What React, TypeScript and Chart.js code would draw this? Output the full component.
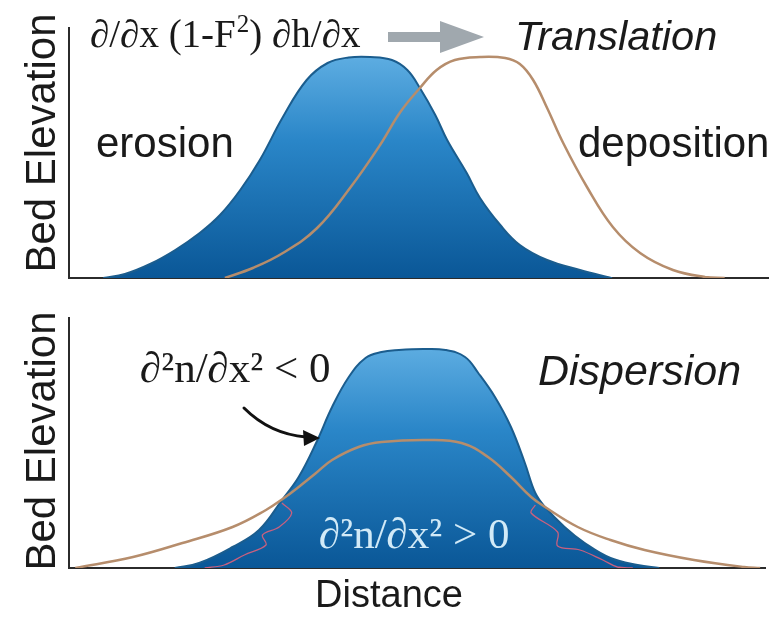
import React, { useEffect, useRef } from "react";
import { Chart, registerables } from "chart.js";

Chart.register(...registerables);

// Distance runs 0–10, bed elevation 0–1 (arbitrary units).

// Translation panel: initial bed form and the bed form after it has moved downstream
const translationBedX = [0.49, 0.8, 1.16, 1.52, 1.87, 2.16, 2.45, 2.73, 3.06, 3.4, 3.7, 4.0, 4.31, 4.62, 4.84, 5.02, 5.24, 5.41, 5.69, 5.88, 6.17, 6.45, 6.84, 7.31, 7.7, 7.77];
const translationBedY = [0, 0.016, 0.056, 0.112, 0.18, 0.252, 0.352, 0.472, 0.644, 0.792, 0.86, 0.882, 0.884, 0.872, 0.832, 0.76, 0.652, 0.552, 0.42, 0.32, 0.212, 0.132, 0.072, 0.032, 0.004, 0];
const translatedX = [2.23, 2.63, 3.06, 3.55, 4.02, 4.45, 4.74, 5.02, 5.26, 5.52, 5.88, 6.24, 6.45, 6.64, 6.84, 7.07, 7.41, 7.78, 8.17, 8.64, 9.1, 9.38];
const translatedY = [0, 0.04, 0.1, 0.2, 0.36, 0.532, 0.664, 0.76, 0.832, 0.872, 0.884, 0.88, 0.856, 0.792, 0.68, 0.54, 0.364, 0.204, 0.1, 0.032, 0.004, 0];

// Dispersion panel: initial bed form and the flattened, spread-out bed form
const dispersionBedX = [1.52, 1.87, 2.35, 2.73, 3.06, 3.3, 3.55, 3.78, 4.02, 4.26, 4.49, 4.74, 5.09, 5.41, 5.69, 5.88, 6.12, 6.35, 6.55, 6.7, 6.84, 7.12, 7.41, 7.78, 8.17, 8.48];
const dispersionBedY = [0, 0.02, 0.084, 0.152, 0.272, 0.364, 0.5, 0.644, 0.764, 0.84, 0.864, 0.872, 0.876, 0.872, 0.844, 0.78, 0.684, 0.564, 0.42, 0.3, 0.244, 0.164, 0.1, 0.04, 0.012, 0];
const dispersedX = [0.09, 0.92, 1.63, 2.35, 2.83, 3.09, 3.3, 3.55, 3.78, 4.16, 4.49, 5.16, 5.64, 6.02, 6.35, 6.64, 6.84, 7.31, 7.78, 8.27, 8.98, 9.7, 9.93];
const dispersedY = [0, 0.044, 0.1, 0.164, 0.232, 0.28, 0.324, 0.38, 0.432, 0.484, 0.504, 0.512, 0.5, 0.444, 0.364, 0.284, 0.244, 0.164, 0.112, 0.072, 0.032, 0.004, 0];

// Inflection traces below the crossing points (convex flanks)
const leftTraceX = [3.06, 3.2, 3.02, 2.78, 2.83, 2.52, 2.23, 1.95];
const leftTraceY = [0.26, 0.22, 0.164, 0.132, 0.092, 0.052, 0.012, 0];
const rightTraceX = [6.7, 6.64, 7.02, 7.02, 7.34, 7.67, 7.88, 8.1];
const rightTraceY = [0.252, 0.22, 0.144, 0.088, 0.072, 0.032, 0.004, 0];

const X_MIN = 0;
const X_MAX = 10;
const Y_MAX = 1;

const SANS = '"Liberation Sans", Arial, sans-serif';
const SERIF = '"Liberation Serif", "Times New Roman", serif';

const zip = (xs: number[], ys: number[]) => xs.map((x, i) => ({ x, y: ys[i] }));

const bedFill = (ctx: any) => {
  const chart = ctx.chart;
  const area = chart.chartArea;
  if (!area) return "#1f7cc0";
  const g = chart.ctx.createLinearGradient(0, area.top, 0, area.bottom);
  g.addColorStop(0, "#6fbaea");
  g.addColorStop(0.45, "#2a86c8");
  g.addColorStop(1, "#0a5797");
  return g;
};

const bedDataset = (xs: number[], ys: number[]) => ({
  data: zip(xs, ys),
  borderColor: "#1b5d8e",
  borderWidth: 2,
  backgroundColor: bedFill,
  fill: "origin",
  pointRadius: 0,
  tension: 0.4,
  order: 3,
});

const shiftedDataset = (xs: number[], ys: number[]) => ({
  data: zip(xs, ys),
  borderColor: "#b68d6c",
  borderWidth: 2.5,
  fill: false,
  pointRadius: 0,
  tension: 0.4,
  order: 1,
});

const traceDataset = (xs: number[], ys: number[]) => ({
  data: zip(xs, ys),
  borderColor: "#c9607f",
  borderWidth: 1.3,
  fill: false,
  pointRadius: 0,
  tension: 0.35,
  order: 2,
});

const baseOptions = (padding: any) => ({
  responsive: false,
  maintainAspectRatio: false,
  animation: false as const,
  layout: { padding },
  plugins: {
    legend: { display: false },
    tooltip: { enabled: false },
  },
  scales: {
    x: {
      type: "linear" as const,
      min: X_MIN,
      max: X_MAX,
      ticks: { display: false },
      grid: { display: false, drawTicks: false },
      border: { display: true, color: "#2b2b2b", width: 2 },
    },
    y: {
      type: "linear" as const,
      min: 0,
      max: Y_MAX,
      ticks: { display: false },
      grid: { display: false, drawTicks: false },
      border: { display: true, color: "#2b2b2b", width: 2 },
    },
  },
});

const drawText = (
  c: CanvasRenderingContext2D,
  text: string,
  x: number,
  y: number,
  font: string,
  color = "#1a1a1a",
  align: CanvasTextAlign = "left"
) => {
  c.save();
  c.font = font;
  c.fillStyle = color;
  c.textAlign = align;
  c.textBaseline = "alphabetic";
  c.fillText(text, x, y);
  const w = c.measureText(text).width;
  c.restore();
  return w;
};

const drawAxisTitle = (c: CanvasRenderingContext2D, x: number, y: number) => {
  c.save();
  c.translate(x, y);
  c.rotate(-Math.PI / 2);
  c.font = `42px ${SANS}`;
  c.fillStyle = "#1a1a1a";
  c.textAlign = "center";
  c.textBaseline = "alphabetic";
  c.fillText("Bed Elevation", 0, 0);
  c.restore();
};

const translationLabels = {
  id: "translationLabels",
  afterDraw(chart: any) {
    const c = chart.ctx as CanvasRenderingContext2D;
    drawAxisTitle(c, 55, 143);
    // ∂/∂x (1-F²) ∂h/∂x with a raised exponent
    const f = `39px ${SERIF}`;
    let x = 90;
    x += drawText(c, "∂/∂x (1-F", x, 47, f);
    x += drawText(c, "2", x + 1, 32, `25px ${SERIF}`) + 1;
    drawText(c, ") ∂h/∂x", x, 47, f);
    drawText(c, "Translation", 515, 50, `italic 41.5px ${SANS}`);
    drawText(c, "erosion", 96, 157, `42px ${SANS}`);
    drawText(c, "deposition", 578, 157, `42px ${SANS}`);
    // direction of migration
    c.save();
    c.fillStyle = "#a0a8ae";
    c.fillRect(388, 32, 54, 10);
    c.beginPath();
    c.moveTo(440, 21);
    c.lineTo(484, 37);
    c.lineTo(440, 53);
    c.closePath();
    c.fill();
    c.restore();
  },
};

const dispersionLabels = {
  id: "dispersionLabels",
  afterDraw(chart: any) {
    const c = chart.ctx as CanvasRenderingContext2D;
    drawAxisTitle(c, 55, 141);
    drawText(c, "∂²n/∂x² < 0", 140, 82, `43px ${SERIF}`);
    drawText(c, "Dispersion", 538, 85, `italic 43px ${SANS}`);
    drawText(c, "∂²n/∂x² > 0", 319, 248, `43px ${SERIF}`, "#d2eaf7");
    drawText(c, "Distance", 389, 307, `38px ${SANS}`, "#1a1a1a", "center");
    // pointer to the concave crest
    c.save();
    c.strokeStyle = "#111";
    c.fillStyle = "#111";
    c.lineWidth = 3;
    c.lineCap = "round";
    c.beginPath();
    c.moveTo(244, 108);
    c.quadraticCurveTo(270, 134, 306, 137);
    c.stroke();
    c.beginPath();
    c.moveTo(320, 138);
    c.lineTo(303, 130);
    c.lineTo(304, 146);
    c.closePath();
    c.fill();
    c.restore();
  },
};

function Panel({ height, top, build }: { height: number; top: number; build: (el: HTMLCanvasElement) => Chart }) {
  const ref = useRef<HTMLCanvasElement | null>(null);
  useEffect(() => {
    if (!ref.current) return;
    const chart = build(ref.current);
    return () => chart.destroy();
  }, [build]);
  return (
    <canvas
      ref={ref}
      width={781}
      height={height}
      style={{ position: "absolute", left: 0, top, width: 781, height }}
    />
  );
}

const buildTranslation = (el: HTMLCanvasElement) =>
  new Chart(el, {
    type: "line",
    data: {
      datasets: [
        bedDataset(translationBedX, translationBedY),
        shiftedDataset(translatedX, translatedY),
      ] as any,
    },
    options: baseOptions({ left: 69, top: 28, right: 13, bottom: 22 }) as any,
    plugins: [translationLabels],
  });

const buildDispersion = (el: HTMLCanvasElement) =>
  new Chart(el, {
    type: "line",
    data: {
      datasets: [
        bedDataset(dispersionBedX, dispersionBedY),
        traceDataset(leftTraceX, leftTraceY),
        traceDataset(rightTraceX, rightTraceY),
        shiftedDataset(dispersedX, dispersedY),
      ] as any,
    },
    options: baseOptions({ left: 69, top: 18, right: 16, bottom: 50 }) as any,
    plugins: [dispersionLabels],
  });

export default function App() {
  useEffect(() => {
    document.body.style.margin = "0";
    document.body.style.background = "#ffffff";
  }, []);
  return (
    <div style={{ position: "relative", width: 781, height: 618, background: "#ffffff" }}>
      <Panel height={300} top={0} build={buildTranslation} />
      <Panel height={318} top={300} build={buildDispersion} />
    </div>
  );
}
